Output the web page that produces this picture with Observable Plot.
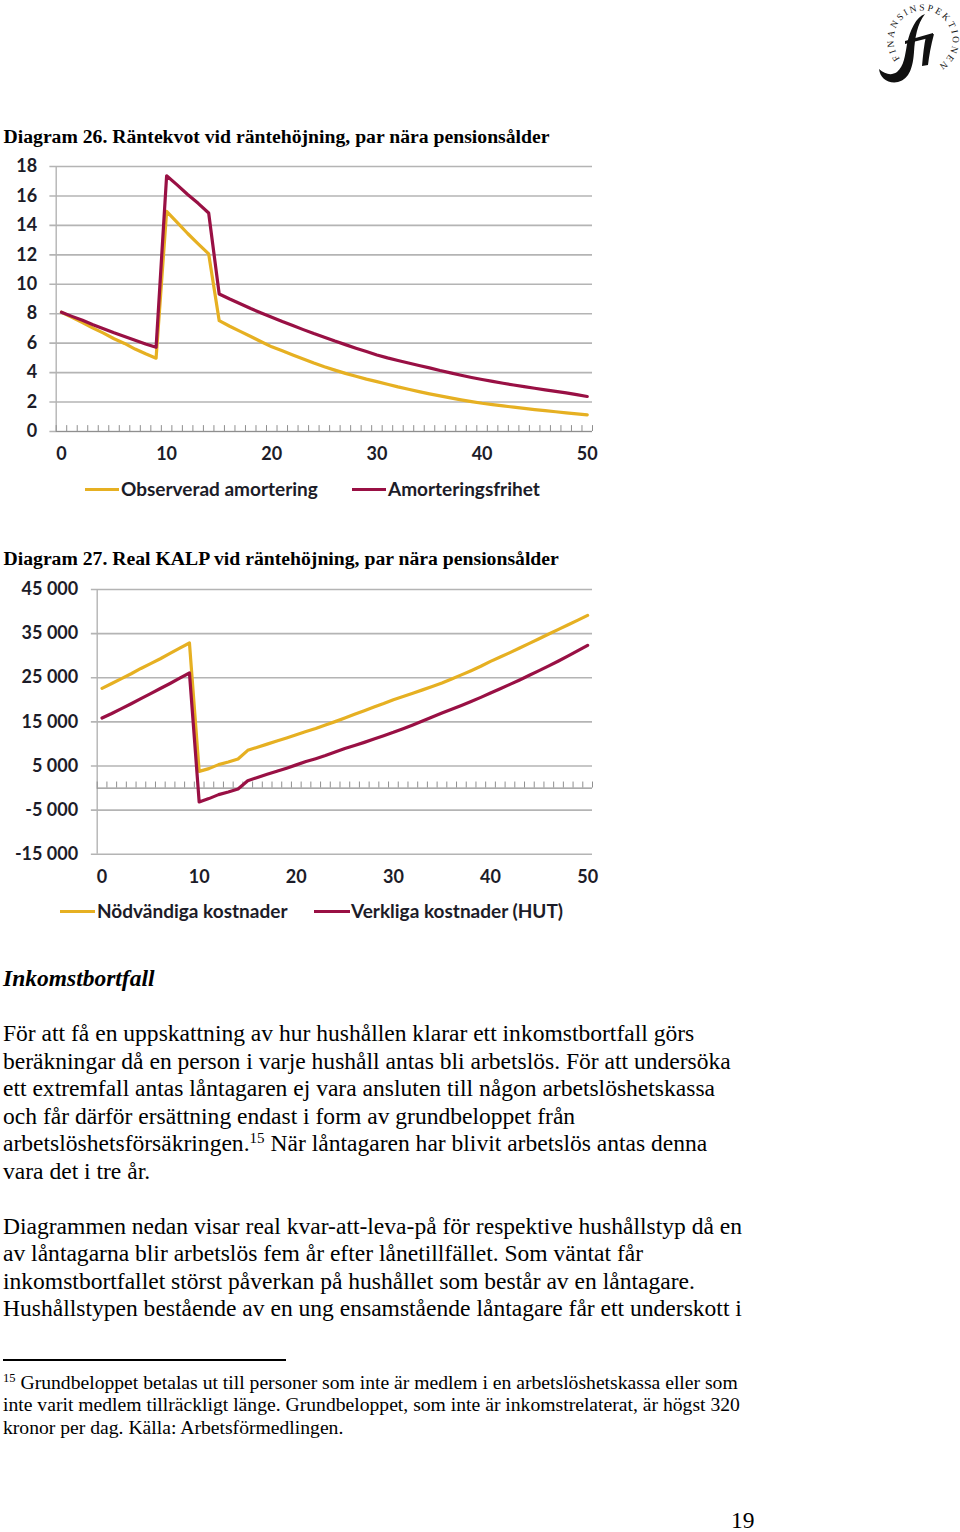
<!DOCTYPE html>
<html lang="sv">
<head>
<meta charset="utf-8">
<script src="https://cdn.jsdelivr.net/npm/d3@7"></script>
<script src="https://cdn.jsdelivr.net/npm/@observablehq/plot@0.6"></script>
<style>
html,body{margin:0;padding:0;background:#fff}
#page{position:relative;width:960px;height:1532px;overflow:hidden;background:#fff;color:#000;font-family:"Liberation Serif",serif}
#page .t{position:absolute;white-space:nowrap;line-height:24px}
#page sup{font-size:.64em;line-height:0;vertical-align:baseline;position:relative;top:-.55em}
#page .chart{position:absolute;left:0}
#page .chart svg{display:block;background:transparent;overflow:visible}
#page .leg{position:absolute;height:3px}
#page .legt{position:absolute;white-space:nowrap;font:700 19px/22px Lato,sans-serif;color:#1c1c28}
</style>
</head>
<body>
<div id="page"></div>
<script>
const YELLOW = "#E6B022", RED = "#991044", GRID = "#b4b4b4", INK = "#1c1c28";

const title26 = "Diagram 26. Räntekvot vid räntehöjning, par nära pensionsålder";
const title27 = "Diagram 27. Real KALP vid räntehöjning, par nära pensionsålder";
const years = d3.range(0, 51);
const labels26 = ["Observerad amortering", "Amorteringsfrihet"];
const labels27 = ["Nödvändiga kostnader", "Verkliga kostnader (HUT)"];

const observerad = [8.1,7.75,7.4,7.02,6.68,6.3,5.98,5.6,5.28,4.98,14.95,14.2,13.45,12.75,12.06,7.53,7.15,6.8,6.45,6.1,5.75,5.48,5.2,4.93,4.65,4.4,4.17,3.95,3.75,3.56,3.39,3.21,3.03,2.87,2.71,2.56,2.42,2.28,2.15,2.03,1.92,1.83,1.74,1.65,1.57,1.49,1.42,1.34,1.27,1.2,1.13];
const amorteringsfri = [8.1,7.82,7.55,7.25,6.98,6.7,6.45,6.2,5.95,5.72,17.37,16.75,16.1,15.5,14.84,9.34,9.0,8.68,8.35,8.05,7.76,7.47,7.2,6.92,6.65,6.4,6.14,5.9,5.66,5.43,5.2,5.0,4.82,4.65,4.48,4.32,4.14,3.98,3.82,3.67,3.53,3.4,3.28,3.16,3.05,2.94,2.83,2.72,2.62,2.5,2.38];
const nodvandiga = [22600,23700,24800,25900,27100,28200,29300,30500,31700,32870,3780,4400,5300,5900,6570,8540,9250,9950,10650,11350,12090,12800,13500,14300,15050,15850,16700,17500,18350,19150,20020,20750,21500,22250,23000,23800,24700,25650,26600,27600,28700,29700,30700,31750,32800,33850,34900,35950,37000,38050,39140];
const verkliga = [15870,16900,18000,19100,20250,21400,22550,23700,24900,26070,-3170,-2400,-1500,-900,-230,1660,2400,3100,3800,4500,5250,6000,6650,7350,8150,8950,9650,10350,11100,11850,12620,13450,14300,15200,16100,17000,17850,18700,19600,20550,21530,22500,23500,24500,25550,26600,27700,28800,29950,31150,32340];

const yTicks26 = [0,2,4,6,8,10,12,14,16,18];
const yTicks27 = [-15000,-5000,5000,15000,25000,35000,45000];
const xTicks = [0,10,20,30,40,50];
const bandEdges = d3.range(0, 52).map(i => i - 0.5);

const bodyLines = [
  ["För att få en uppskattning av hur hushållen klarar ett inkomstbortfall görs", 1034],
  ["beräkningar då en person i varje hushåll antas bli arbetslös. För att undersöka", 1062],
  ["ett extremfall antas låntagaren ej vara ansluten till någon arbetslöshetskassa", 1089],
  ["och får därför ersättning endast i form av grundbeloppet från", 1117],
  ["arbetslöshetsförsäkringen.<sup>15</sup> När låntagaren har blivit arbetslös antas denna", 1144],
  ["vara det i tre år.", 1172],
  ["Diagrammen nedan visar real kvar-att-leva-på för respektive hushållstyp då en", 1227],
  ["av låntagarna blir arbetslös fem år efter lånetillfället. Som väntat får", 1254],
  ["inkomstbortfallet störst påverkan på hushållet som består av en låntagare.", 1282],
  ["Hushållstypen bestående av en ung ensamstående låntagare får ett underskott i", 1309]
];
const footLines = [
  ["<sup>15</sup> Grundbeloppet betalas ut till personer som inte är medlem i en arbetslöshetskassa eller som", 1383],
  ["inte varit medlem tillräckligt länge. Grundbeloppet, som inte är inkomstrelaterat, är högst 320", 1405],
  ["kronor per dag. Källa: Arbetsförmedlingen.", 1428]
];

const page = document.getElementById("page");
function text(html, x, cy, size, extra = "") {
  const d = document.createElement("div");
  d.className = "t";
  d.style.cssText = `left:${x}px;top:${cy - 13}px;font-size:${size}px;${extra}`;
  d.innerHTML = html;
  page.appendChild(d);
  return d;
}
const spaced = n => n < 0 ? "-" + spaced(-n) : d3.format(",")(n).replace(/,/g, " ");

function chart({top, height, marginLeft, marginTop, marginBottom, domain, ticks, zeroTick, fmt, a, b, tickPadX, tickX}) {
  const table = years.map((x, i) => ({x, a: a[i], b: b[i]}));
  const p = Plot.plot({
    width: 620, height, marginLeft, marginRight: 28, marginTop, marginBottom,
    style: {fontFamily: "Lato, sans-serif", background: "transparent", color: INK},
    x: {domain: [-0.5, 50.5], label: null},
    y: {domain, label: null},
    marks: [
      Plot.ruleY(ticks, {x1: -1.1, x2: 50.5, stroke: GRID, strokeWidth: 1.6}),
      Plot.ruleX([-0.5], {y1: domain[0], y2: domain[1], stroke: GRID, strokeWidth: 1.4}),
      Plot.ruleY([0], {x1: -0.5, x2: 50.5, stroke: "#8f8f8f", strokeWidth: 1.2}),
      Plot.ruleX(bandEdges, {y1: 0, y2: zeroTick, stroke: "#8f8f8f", strokeWidth: 1}),
      Plot.axisY({ticks, tickSize: 0, tickPadding: tickPadX, tickFormat: fmt, fontSize: 18, fontWeight: 700, fill: INK, label: null}),
      Plot.axisX({ticks: xTicks, tickSize: 0, tickPadding: tickX, tickFormat: d => d, fontSize: 18, fontWeight: 700, fill: INK, label: null}),
      Plot.line(table, {x: "x", y: "a", stroke: YELLOW, strokeWidth: 3.2, strokeLinejoin: "round", strokeLinecap: "round"}),
      Plot.line(table, {x: "x", y: "b", stroke: RED, strokeWidth: 3.2, strokeLinejoin: "round", strokeLinecap: "round"})
    ]
  });
  const wrap = document.createElement("div");
  wrap.className = "chart";
  wrap.style.top = top + "px";
  wrap.appendChild(p);
  page.appendChild(wrap);
}
function legend(x1, x2, tx, cy, color, label) {
  const l = document.createElement("div");
  l.className = "leg";
  l.style.cssText = `left:${x1}px;width:${x2 - x1}px;top:${cy - 1.5}px;background:${color}`;
  page.appendChild(l);
  const t = document.createElement("div");
  t.className = "legt";
  t.style.cssText = `left:${tx}px;top:${cy - 11}px`;
  t.textContent = label;
  page.appendChild(t);
}

text(title26, 3.5, 137, 19.7, "font-weight:700");
chart({top: 150, height: 320, marginLeft: 55.7, marginTop: 16, marginBottom: 39, domain: [0, 18], ticks: yTicks26, zeroTick: 0.4, fmt: d => d, a: observerad, b: amorteringsfri, tickPadX: 19, tickX: 16});
legend(85, 119, 121, 489, YELLOW, labels26[0]);
legend(352, 386, 388, 489, RED, labels26[1]);

text(title27, 3.5, 559, 19.7, "font-weight:700");
chart({top: 573, height: 320, marginLeft: 96.7, marginTop: 16, marginBottom: 39.3, domain: [-15000, 45000], ticks: yTicks27, zeroTick: 1360, fmt: spaced, a: nodvandiga, b: verkliga, tickPadX: 19, tickX: 16});
legend(60, 95, 97, 911, YELLOW, labels27[0]);
legend(314, 350, 351, 911, RED, labels27[1]);

text("Inkomstbortfall", 3, 979, 23.5, "font-weight:700;font-style:italic");
bodyLines.forEach(([s, y]) => text(s, 3, y, 23.55));
const rule = document.createElement("div");
rule.style.cssText = "position:absolute;left:3px;top:1359px;width:283px;height:2px;background:#000";
page.appendChild(rule);
footLines.forEach(([s, y]) => text(s, 3, y, 19.65));
text("19", 731, 1521, 23.5);

// Finansinspektionen logo
const ns = "http://www.w3.org/2000/svg";
const logo = document.createElementNS(ns, "svg");
logo.setAttribute("width", 100); logo.setAttribute("height", 90);
logo.setAttribute("viewBox", "0 0 100 90");
logo.style.cssText = "position:absolute;left:860px;top:0";
logo.innerHTML = `
<defs><path id="ring" d="M 40.2 58.7 A 29.5 29.5 0 1 1 63 69.5"/></defs>
<text font-family="Liberation Serif" font-size="9.5" fill="#111" letter-spacing="2.3"><textPath href="#ring">FINANSINSPEKTIONEN</textPath></text>
<path d="M65 14 C56 17 50 30 47 44 C45 56 44 66 37 72 C31 76 25 74 19 69 C20 78 28 84 38 82 C50 79 53 66 54 52 C55 38 57 24 65 14Z" fill="#111"/>
<path d="M45 41 L73 33 L73 37 L45 44Z" fill="#111"/>
<path d="M66 36 L74 34 C71 45 69 56 68 65 L62 66 C63 55 64 45 66 36Z" fill="#111"/>`;
page.appendChild(logo);
</script>
</body>
</html>
